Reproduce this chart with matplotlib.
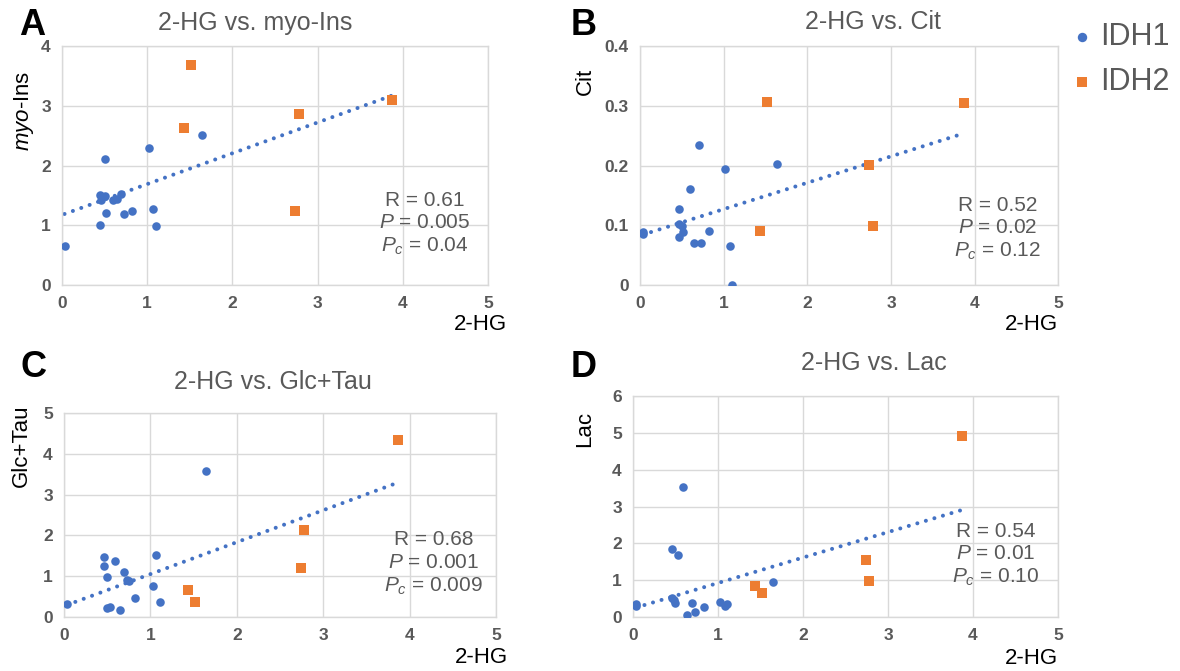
import numpy as np
import matplotlib.pyplot as plt

plt.rcParams['font.family'] = ['Liberation Sans', 'DejaVu Sans']
plt.rcParams['mathtext.fontset'] = 'custom'
plt.rcParams['mathtext.rm'] = 'Liberation Sans'
plt.rcParams['mathtext.it'] = 'Liberation Sans:italic'

BLUE = '#4472C4'
ORANGE = '#ED7D31'
GRAY = '#595959'
GRID = '#D9D9D9'

# ---------------- data ----------------
idh2_hg = [1.43, 1.52, 2.74, 2.78, 3.87]

# panel A : 2-HG vs myo-Ins
a_hg1 = [0.03, 0.45, 0.45, 0.46, 0.50, 0.51, 0.52, 0.60, 0.65, 0.69, 0.73, 0.82, 1.02, 1.07, 1.10, 1.64]
a_y1 = [0.65, 1.01, 1.51, 1.42, 2.11, 1.49, 1.20, 1.42, 1.44, 1.53, 1.18, 1.23, 2.30, 1.28, 0.98, 2.51]
a_y2 = [2.63, 3.69, 1.24, 2.87, 3.10]

# panel B : 2-HG vs Cit
b_hg1 = [0.03, 0.03, 0.46, 0.46, 0.46, 0.50, 0.51, 0.60, 0.65, 0.70, 0.73, 0.82, 1.02, 1.08, 1.10, 1.64]
b_y1 = [0.088, 0.085, 0.128, 0.102, 0.080, 0.099, 0.088, 0.161, 0.071, 0.235, 0.071, 0.090, 0.194, 0.066, 0.000, 0.202]
b_y2 = [0.090, 0.306, 0.201, 0.099, 0.304]

# panel C : 2-HG vs Glc+Tau
c_hg1 = [0.035, 0.46, 0.46, 0.50, 0.50, 0.53, 0.59, 0.65, 0.70, 0.73, 0.75, 0.82, 1.03, 1.07, 1.11, 1.64]
c_y1 = [0.33, 1.48, 1.25, 0.99, 0.22, 0.24, 1.38, 0.16, 1.11, 0.91, 0.88, 0.47, 0.76, 1.51, 0.37, 3.57]
c_y2 = [0.67, 0.37, 1.19, 2.13, 4.34]

# panel D : 2-HG vs Lac
d_hg1 = [0.035, 0.035, 0.46, 0.46, 0.48, 0.50, 0.53, 0.59, 0.64, 0.69, 0.73, 0.83, 1.02, 1.08, 1.11, 1.65]
d_y1 = [0.36, 0.29, 1.85, 0.52, 0.47, 0.39, 1.67, 3.53, 0.05, 0.38, 0.13, 0.26, 0.41, 0.31, 0.35, 0.95]
d_y2 = [0.84, 0.66, 1.56, 0.98, 4.91]

stats = {'A': ('0.61', '0.005', '0.04'),
         'B': ('0.52', '0.02', '0.12'),
         'C': ('0.68', '0.001', '0.009'),
         'D': ('0.54', '0.01', '0.10')}

panels = [
    # letter, hg1, y1, y2, title, ylabel, ymax, ystep, axes rect
    ('A', a_hg1, a_y1, a_y2, '2-HG vs. myo-Ins', r'$\it{myo}$-Ins', 4, 1, [0.0525, 0.5753, 0.3610, 0.3561]),
    ('B', b_hg1, b_y1, b_y2, '2-HG vs. Cit', 'Cit', 0.4, 0.1, [0.5424, 0.5753, 0.3545, 0.3561]),
    ('C', c_hg1, c_y1, c_y2, '2-HG vs. Glc+Tau', 'Glc+Tau', 5, 1, [0.0542, 0.0805, 0.3661, 0.3040]),
    ('D', d_hg1, d_y1, d_y2, '2-HG vs. Lac', 'Lac', 6, 1, [0.5364, 0.0805, 0.3602, 0.3293]),
]

# layout tweaks per panel (axes coords)
title_pos = {'A': (0.454, 1.096), 'B': (0.557, 1.100), 'C': (0.483, 1.152), 'D': (0.567, 1.149)}
ylab_pos = {'A': (-0.088, 0.728), 'B': (-0.13, 0.85), 'C': (-0.098, 0.84), 'D': (-0.113, 0.85)}
xlab_pos = {'A': (1.045, -0.167), 'B': (1.0, -0.167), 'C': (1.028, -0.20), 'D': (1.0, -0.186)}
stat_pos = {'A': (0.852, 0.255), 'B': (0.854, 0.234), 'C': (0.856, 0.262), 'D': (0.854, 0.282)}
letter_pos = {'A': (19, 8), 'B': (571, 8), 'C': (20, 350), 'D': (571, 350)}

fig = plt.figure(figsize=(11.8, 6.71), dpi=100)

for letter, hg1, y1, y2, title, ylab, ymax, ystep, rect in panels:
    ax = fig.add_axes(rect)
    ax.set_xlim(0, 5)
    ax.set_ylim(0, ymax)
    ax.set_xticks(np.arange(0, 6, 1))
    ax.set_yticks(np.arange(0, ymax + ystep / 2, ystep))
    if ystep < 1:
        ax.set_yticklabels(['0'] + ['%.1f' % v for v in np.arange(ystep, ymax + ystep / 2, ystep)])
    ax.grid(True, color=GRID, lw=1)
    ax.set_axisbelow(True)
    for s in ax.spines.values():
        s.set_color(GRID)
        s.set_linewidth(1)
    ax.tick_params(length=0, labelsize=12.5, labelcolor=GRAY, pad=8)
    for lab in ax.get_xticklabels() + ax.get_yticklabels():
        lab.set_fontweight('bold')

    # trendline over all samples
    xs = np.array(hg1 + idh2_hg)
    ys = np.array(y1 + y2)
    k, b = np.polyfit(xs, ys, 1)
    xl = np.array([xs.min(), xs.max()])
    ax.plot(xl, k * xl + b, color=BLUE, lw=2.9, linestyle=(0, (0.01, 2.2)),
            dash_capstyle='round', zorder=2)

    ax.scatter(hg1, y1, s=38, color=BLUE, marker='o', linewidths=0, zorder=3, label='IDH1')
    ax.scatter(idh2_hg, y2, s=50, color=ORANGE, marker='s', linewidths=0, zorder=3, label='IDH2')

    tx, ty = title_pos[letter]
    ax.text(tx, ty, title, transform=ax.transAxes, ha='center', va='center',
            fontsize=18, color=GRAY)
    lx, ly = ylab_pos[letter]
    ax.text(lx, ly, ylab, transform=ax.transAxes, ha='center', va='center',
            rotation=90, fontsize=16, color='black')
    xx, xy = xlab_pos[letter]
    ax.text(xx, xy, '2-HG', transform=ax.transAxes, ha='right', va='center',
            fontsize=16, color='black')

    r, p, pc = stats[letter]
    sx, sy = stat_pos[letter]
    ax.text(sx, sy, 'R = %s\n$P$ = %s\n$P_c$ = %s' % (r, p, pc), transform=ax.transAxes,
            ha='center', va='center', fontsize=15, color=GRAY, linespacing=1.22,
            multialignment='center')

    px, py = letter_pos[letter]
    fig.text(px / 1180, 1 - py / 671, letter, ha='left', va='top',
             fontsize=26, fontweight='bold', color='black')

    if letter == 'B':
        h, l = ax.get_legend_handles_labels()

fig.legend(h, l, loc='upper left', bbox_to_anchor=(1070 / 1180, 1 - 22 / 671),
           frameon=False, fontsize=22, labelcolor=GRAY, handletextpad=0.2,
           handlelength=0.8, labelspacing=0.5, borderpad=0, borderaxespad=0,
           markerscale=1.1)

fig.savefig('out.png', dpi=100)
